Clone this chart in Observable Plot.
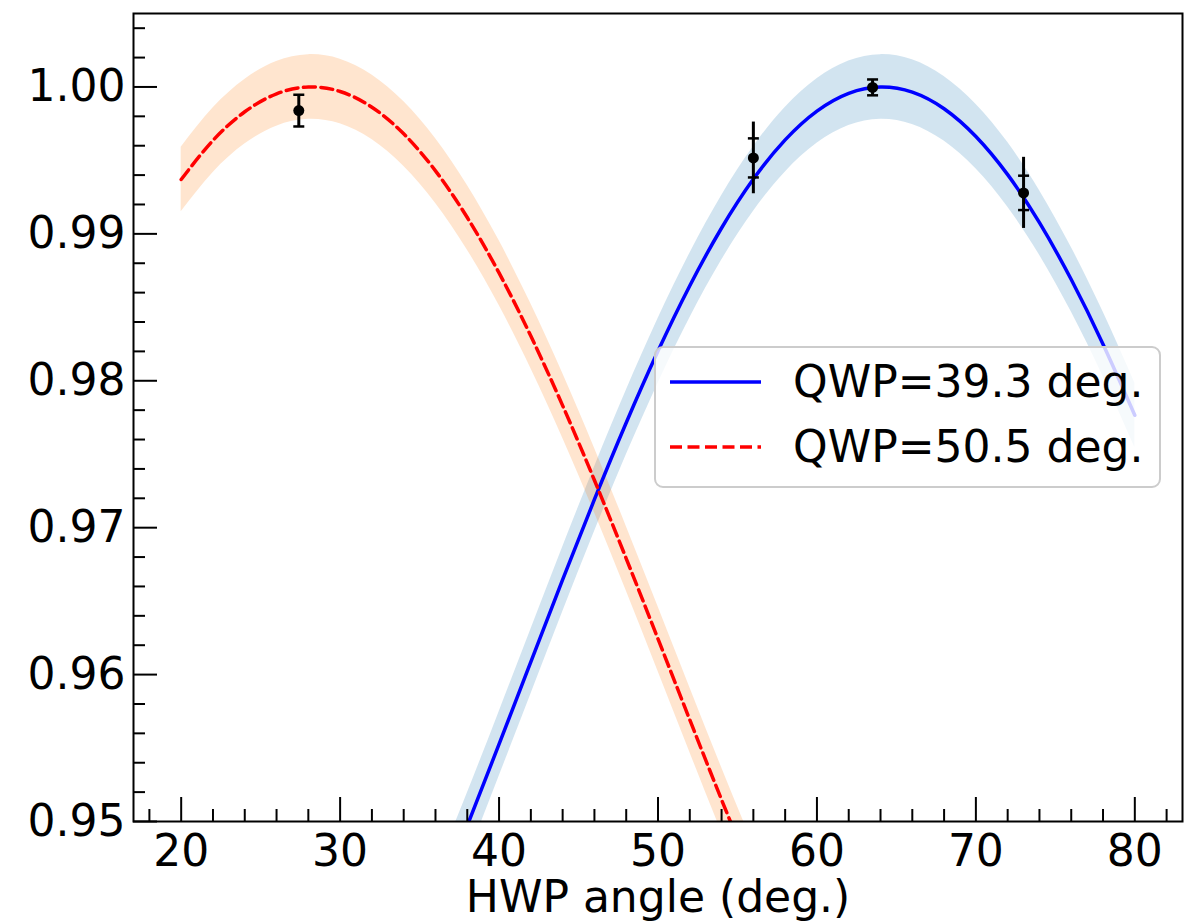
<!DOCTYPE html>
<html><head><meta charset="utf-8">
<script src="https://cdn.jsdelivr.net/npm/d3@7"></script>
<script src="https://cdn.jsdelivr.net/npm/@observablehq/plot@0.6"></script>
<style>html,body{margin:0;padding:0;background:#fff;}</style>
</head><body><div id="chart"></div>
<script>
// HWP angles (deg.) for the fitted curves
const blueAngles = [20,22,24,26,28,30,32,34,36,38,40,42,44,46,48,50,52,54,56,58,60,62,64,66,68,70,72,74,76,78,80];
const blueFit  = [0.91958,0.92032,0.92183,0.92408,0.92702,0.93060,0.93475,0.93939,0.94442,0.94972,0.95526,0.96087,0.96646,0.97192,0.97714,0.98202,0.98647,0.99040,0.99373,0.99640,0.99836,0.99957,1.00000,0.99965,0.99852,0.99663,0.99403,0.99076,0.98689,0.98249,0.97765];
const blueHigh = [0.92178,0.92252,0.92403,0.92628,0.92922,0.93280,0.93695,0.94159,0.94662,0.95192,0.95746,0.96307,0.96866,0.97412,0.97934,0.98422,0.98867,0.99260,0.99593,0.99860,1.00056,1.00177,1.00220,1.00185,1.00072,0.99883,0.99623,0.99296,0.98909,0.98469,0.97985];
const blueLow  = [0.91738,0.91812,0.91963,0.92188,0.92482,0.92840,0.93255,0.93719,0.94222,0.94752,0.95306,0.95867,0.96426,0.96972,0.97494,0.97982,0.98427,0.98820,0.99153,0.99420,0.99616,0.99737,0.99780,0.99745,0.99632,0.99443,0.99183,0.98856,0.98469,0.98029,0.97545];

const redAngles = [20,22,24,26,28,30,32,34,36,38,40,42,44,46,48,50,52,54,56,58,60];
const redFit  = [0.99370,0.99636,0.99831,0.99953,1.00000,0.99969,0.99862,0.99681,0.99429,0.99111,0.98734,0.98304,0.97831,0.97323,0.96790,0.96243,0.95692,0.95148,0.94622,0.94123,0.93662];
const redHigh = [0.99590,0.99856,1.00051,1.00173,1.00220,1.00189,1.00082,0.99901,0.99649,0.99331,0.98954,0.98524,0.98051,0.97543,0.97010,0.96463,0.95912,0.95368,0.94842,0.94343,0.93882];
const redLow  = [0.99150,0.99416,0.99611,0.99733,0.99780,0.99749,0.99642,0.99461,0.99209,0.98891,0.98514,0.98084,0.97611,0.97103,0.96570,0.96023,0.95472,0.94928,0.94402,0.93903,0.93442];

// measured points
const pointAngle = [27.4, 56.0, 63.5, 73.0];
const pointValue = [0.99839, 0.99517, 0.99997, 0.99279];
const pointErrInner = [0.00108, 0.00133, 0.00054, 0.00117];
const pointErrOuter = [0.00108, 0.00244, 0.00054, 0.00242];

// ticks
const xMajorTicks = [20,30,40,50,60,70,80];
const xMinorTicks = [18,22,24,26,28,32,34,36,38,42,44,46,48,52,54,56,58,62,64,66,68,72,74,76,78,82];
const yMajorTicks = [0.95,0.96,0.97,0.98,0.99,1.00];
const yMinorTicks = [0.952,0.954,0.956,0.958,0.962,0.964,0.966,0.968,0.972,0.974,0.976,0.978,0.982,0.984,0.986,0.988,0.992,0.994,0.996,0.998,1.002,1.004];

const legendLabels = ["QWP=39.3 deg.", "QWP=50.5 deg."];
const xLabel = "HWP angle (deg.)";

const blueData = blueAngles.map((a,i)=>({a, y: blueFit[i], lo: blueLow[i], hi: blueHigh[i]}));
const redData = redAngles.map((a,i)=>({a, y: redFit[i], lo: redLow[i], hi: redHigh[i]}));
const points = pointAngle.map((a,i)=>({a, y: pointValue[i], ei: pointErrInner[i], eo: pointErrOuter[i]}));
const caps = points.flatMap(p => [{a: p.a, y: p.y - p.ei}, {a: p.a, y: p.y + p.ei}]);

const W = 1193, H = 923, mL = 133, mR = 11, mT = 13, mB = 102;
const frameW = W - mL - mR, frameH = H - mT - mB;
const FS = 44;
const LW = 3.5, DASH = "12,5.5";

const capSymbol = {draw(ctx, size){ const r = Math.sqrt(size/Math.PI); ctx.moveTo(-r,0); ctx.lineTo(r,0); }};

function legend(index, scales, values, dimensions) {
  const g = d3.create("svg:g").attr("text-anchor","start");
  g.append("rect").attr("x",655).attr("y",347).attr("width",505).attr("height",140).attr("rx",8)
    .attr("fill","white").attr("fill-opacity",0.8).attr("stroke","#cccccc").attr("stroke-width",2);
  const styles = [{stroke:"#0000ff", dash:null},{stroke:"#ff0000", dash:DASH}];
  legendLabels.forEach((lab,i)=>{
    const yy = 382 + i*65;
    const ln = g.append("line").attr("x1",670).attr("x2",761).attr("y1",yy).attr("y2",yy)
      .attr("stroke",styles[i].stroke).attr("stroke-width",LW);
    if (styles[i].dash) ln.attr("stroke-dasharray",styles[i].dash);
    g.append("text").attr("x",793).attr("y",yy+15).attr("font-size",FS).attr("fill","black")
      .attr("text-anchor","start").attr("font-family","DejaVu Sans").text(lab);
  });
  return g.node();
}

const chart = Plot.plot({
  width: W, height: H,
  marginLeft: mL, marginRight: mR, marginTop: mT, marginBottom: mB,
  style: {fontFamily: "DejaVu Sans", fontSize: FS+"px", color: "black", background: "white"},
  x: {domain: [17, 83]},
  y: {domain: [0.95, 1.005]},
  marks: [
    Plot.areaY(blueData, {x:"a", y1:"lo", y2:"hi", fill:"#1f77b4", fillOpacity:0.2, curve:"natural", clip:true}),
    Plot.areaY(redData, {x:"a", y1:"lo", y2:"hi", fill:"#ff7f0e", fillOpacity:0.2, curve:"natural", clip:true}),
    Plot.line(blueData, {x:"a", y:"y", stroke:"#0000ff", strokeWidth:LW, curve:"natural", clip:true}),
    Plot.line(redData, {x:"a", y:"y", stroke:"#ff0000", strokeWidth:LW, strokeDasharray:DASH, curve:"natural", clip:true}),
    Plot.ruleX(points, {x:"a", y1: d=>d.y-d.eo, y2: d=>d.y+d.eo, stroke:"black", strokeWidth:3}),
    Plot.dot(caps, {x:"a", y:"y", symbol: capSymbol, r:5.5, stroke:"black", strokeWidth:2.5, fill:"none"}),
    Plot.dot(points, {x:"a", y:"y", r:5.5, fill:"black", stroke:"none"}),
    Plot.tickX(xMajorTicks, {x:d=>d, stroke:"black", strokeWidth:2, insetTop: frameH-24}),
    Plot.tickX(xMinorTicks, {x:d=>d, stroke:"black", strokeWidth:2, insetTop: frameH-12}),
    Plot.tickY(yMajorTicks, {y:d=>d, stroke:"black", strokeWidth:2, insetRight: frameW-24}),
    Plot.tickY(yMinorTicks, {y:d=>d, stroke:"black", strokeWidth:2, insetRight: frameW-12}),
    Plot.frame({stroke:"black", strokeWidth:2}),
    Plot.axisX({ticks: xMajorTicks, tickSize:0, tickPadding:13, fontSize:FS, label:null, tickFormat: d=>String(d)}),
    Plot.axisY({ticks: yMajorTicks, tickSize:0, tickPadding:8, fontSize:FS, label:null, tickFormat: d3.format(".2f")}),
    Plot.text([xLabel], {text:d=>d, frameAnchor:"bottom", dy:59, lineAnchor:"top", fontSize:FS, fill:"black"}),
    legend
  ]
});
document.getElementById("chart").appendChild(chart);
</script>
</body></html>
